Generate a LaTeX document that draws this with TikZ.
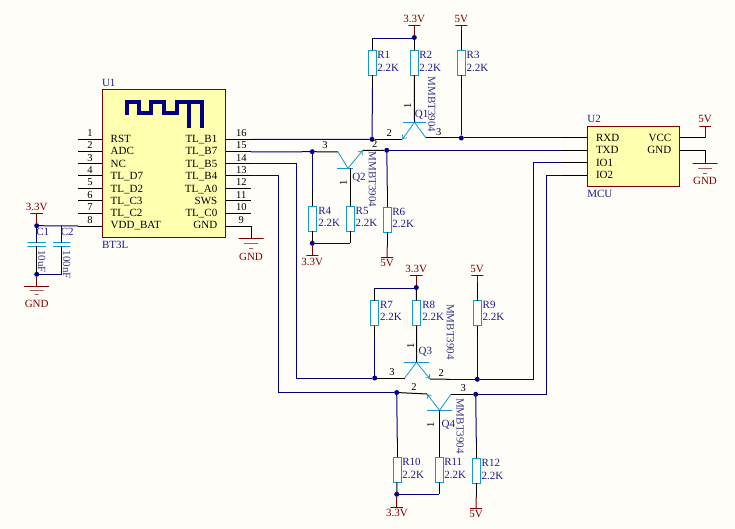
\documentclass[tikz,border=0pt]{standalone}
\usepackage{fontspec}
\setmainfont{Liberation Serif}
\usetikzlibrary{arrows.meta}
\definecolor{paper}{HTML}{FFFDF8}
\definecolor{chipfill}{HTML}{FFFFB0}
\definecolor{netblue}{HTML}{000080}
\definecolor{partcyan}{HTML}{0F9CC8}
\definecolor{powerred}{HTML}{800000}
\definecolor{refblue}{HTML}{1C1C8C}
\definecolor{typeblue}{HTML}{3A3A8C}

\begin{document}
\begin{tikzpicture}[x=1pt,y=-1pt]
	\tikzstyle{txt}=[inner sep=0pt, outer sep=0pt, text height=7pt, text depth=0pt, font=\fontsize{11}{12}\selectfont]
	\tikzstyle{pinname}=[txt, text=black]
	\tikzstyle{pinnum}=[txt, text=black, font=\fontsize{10.5}{12}\selectfont]
	\tikzstyle{ref}=[txt, text=refblue]
	\tikzstyle{typename}=[txt, text=typeblue, rotate=-90]
	\tikzstyle{power}=[txt, text=powerred]
	\tikzstyle{chip}=[rectangle, draw=powerred, fill=chipfill, line width=1pt, inner sep=0pt, outer sep=0pt]
	\tikzstyle{res}=[rectangle, draw=partcyan, fill=paper, line width=1.1pt, minimum width=8.4pt, minimum height=25pt, inner sep=0pt, outer sep=0pt]
	\tikzstyle{bar}=[rectangle, draw=partcyan, line width=0.6pt, inner sep=0pt, outer sep=0pt, minimum height=0pt]
	\tikzstyle{railbar}=[bar, draw=powerred]
	\tikzstyle{dot}=[circle, fill=netblue, inner sep=0pt, outer sep=0pt, minimum size=5pt]
	\tikzstyle{wire}=[netblue, line width=1pt]
	\tikzstyle{pin}=[black, line width=1pt]
	\tikzstyle{rail}=[powerred, line width=1pt]
	\tikzstyle{leg}=[partcyan, line width=0.8pt]
	\tikzstyle{legarrow}=[leg, -{To[length=4pt,width=6pt]}]

	\path[fill=paper] (0,0) rectangle (735,529);

	% BT3L module
	\node[chip, minimum width=123.5pt, minimum height=147pt] (U1) at (163.75,163.5) {};
	\draw[netblue, line width=3.7pt, line join=miter] (126.7,115) -- (126.7,101.7) -- (139.3,101.7) -- (139.3,113.3) -- (150.7,113.3) -- (150.7,101.7) -- (164.3,101.7) -- (164.3,113.3) -- (176.7,113.3) -- (176.7,101.7) -- (201.7,101.7) -- (201.7,128.3);
	\draw[netblue, line width=3.7pt] (189.3,101.7) -- (189.3,128.3);
	\node[ref, anchor=west] (U1ref) at (102,83.3) {U1};
	\node[ref, anchor=west] (U1type) at (102,244.7) {BT3L};

	% module pins, left side
	\coordinate (p1) at (78,139.5);
	\coordinate (p2) at (78,152);
	\coordinate (p3) at (78,164);
	\coordinate (p4) at (78,176);
	\coordinate (p5) at (78,189);
	\coordinate (p6) at (78,201);
	\coordinate (p7) at (78,213.5);
	\coordinate (p8) at (78,226);
	\draw[pin] (p1) -- (p1 -| U1.west);
	\draw[pin] (p2) -- (p2 -| U1.west);
	\draw[pin] (p3) -- (p3 -| U1.west);
	\draw[pin] (p4) -- (p4 -| U1.west);
	\draw[pin] (p5) -- (p5 -| U1.west);
	\draw[pin] (p6) -- (p6 -| U1.west);
	\draw[pin] (p7) -- (p7 -| U1.west);
	\draw[pin] (p8) -- (p8 -| U1.west);
	\node[pinnum] (n1) at (90,132.7) {1};
	\node[pinnum] (n2) at (90,145.3) {2};
	\node[pinnum] (n3) at (90,157.7) {3};
	\node[pinnum] (n4) at (90,170) {4};
	\node[pinnum] (n5) at (90,182.3) {5};
	\node[pinnum] (n6) at (90,195) {6};
	\node[pinnum] (n7) at (90,207.3) {7};
	\node[pinnum] (n8) at (90,220) {8};
	\node[pinname, anchor=west] (rst) at (110.7,139.3) {RST};
	\node[pinname, anchor=west] (adc) at (110.7,151.5) {ADC};
	\node[pinname, anchor=west] (nc) at (110.7,164) {NC};
	\node[pinname, anchor=west] (d7) at (110.7,176) {TL\_D7};
	\node[pinname, anchor=west] (d2) at (110.7,189) {TL\_D2};
	\node[pinname, anchor=west] (c3) at (110.7,201) {TL\_C3};
	\node[pinname, anchor=west] (c2) at (110.7,213.5) {TL\_C2};
	\node[pinname, anchor=west] (vdd) at (110.7,225.5) {VDD\_BAT};

	% module pins, right side
	\coordinate (p16) at (251,139.5);
	\coordinate (p15) at (251,152);
	\coordinate (p14) at (251,164);
	\coordinate (p13) at (251,176);
	\coordinate (p12) at (251,189);
	\coordinate (p11) at (251,201);
	\coordinate (p10) at (251,213.5);
	\coordinate (p9) at (251,226);
	\draw[pin] (p16) -- (p16 -| U1.east);
	\draw[pin] (p15) -- (p15 -| U1.east);
	\draw[pin] (p14) -- (p14 -| U1.east);
	\draw[pin] (p13) -- (p13 -| U1.east);
	\draw[pin] (p12) -- (p12 -| U1.east);
	\draw[pin] (p11) -- (p11 -| U1.east);
	\draw[pin] (p10) -- (p10 -| U1.east);
	\draw[pin] (p9) -- (p9 -| U1.east);
	\node[pinnum] (n16) at (241.3,132.7) {16};
	\node[pinnum] (n15) at (241.3,145.3) {15};
	\node[pinnum] (n14) at (241.3,157.7) {14};
	\node[pinnum] (n13) at (241.3,170) {13};
	\node[pinnum] (n12) at (241.3,182.3) {12};
	\node[pinnum] (n11) at (241.3,195) {11};
	\node[pinnum] (n10) at (241.3,207.3) {10};
	\node[pinnum] (n9) at (241.3,220) {9};
	\node[pinname, anchor=east] (b1) at (217.3,139.3) {TL\_B1};
	\node[pinname, anchor=east] (b7) at (217.3,151.5) {TL\_B7};
	\node[pinname, anchor=east] (b5) at (217.3,164) {TL\_B5};
	\node[pinname, anchor=east] (b4) at (217.3,176) {TL\_B4};
	\node[pinname, anchor=east] (a0) at (217.3,189) {TL\_A0};
	\node[pinname, anchor=east] (sws) at (217.3,201) {SWS};
	\node[pinname, anchor=east] (c0) at (217.3,213.5) {TL\_C0};
	\node[pinname, anchor=east] (gnd1) at (217.3,225.5) {GND};

	% module ground
	\node[railbar, minimum width=25pt] (g1a) at (251,238.3) {};
	\node[railbar, minimum width=14pt] (g1b) at (251,243) {};
	\node[railbar, minimum width=4pt] (g1c) at (251,248) {};
	\draw[pin] (p9) -- (g1a);
	\node[power] (g1txt) at (251,256.7) {GND};

	% decoupling
	\node[dot] (j3v) at (36.7,225.7) {};
	\node[dot] (jgnd) at (36.7,274.3) {};
	\coordinate (c2top) at (61.7,225.7);
	\coordinate (c2bot) at (61.7,274.3);
	\node[railbar, minimum width=12.7pt] (vc) at (36.7,213.3) {};
	\node[power] (vctxt) at (36.7,207.3) {3.3V};
	\node[bar, minimum width=18.5pt, line width=0.9pt] (C1a) at (36.7,242.7) {};
	\node[bar, minimum width=18.5pt, line width=0.9pt] (C1b) at (36.7,246.3) {};
	\node[bar, minimum width=17.4pt, line width=0.9pt] (C2a) at (61.7,242.7) {};
	\node[bar, minimum width=17.4pt, line width=0.9pt] (C2b) at (61.7,246.3) {};
	\node[railbar, minimum width=25pt] (g2a) at (36.7,286.3) {};
	\node[railbar, minimum width=14pt] (g2b) at (36.7,290) {};
	\node[railbar, minimum width=4pt] (g2c) at (36.7,294) {};
	\node[power] (g2txt) at (36.7,304.3) {GND};
	\draw[wire] (p8) -- (j3v);
	\draw[rail] (vc) -- (j3v);
	\draw[wire] (j3v) -- (C1a);
	\draw[wire] (c2top) -- (C2a);
	\draw[pin] (C1b) -- (jgnd);
	\draw[pin] (C2b) -- (c2bot);
	\draw[wire] (jgnd) -- (c2bot);
	\draw[rail] (jgnd) -- (g2a);
	\node[ref] (C1ref) at (42.7,232) {C1};
	\node[ref] (C2ref) at (67.3,232) {C2};
	\node[typename] (C1val) at (41.7,261.7) {10uF};
	\node[typename] (C2val) at (66.7,265) {100nF};

	% first level shifter
	\node[res] (R1) at (372.5,63) {};
	\node[res] (R2) at (414.3,63) {};
	\node[res] (R3) at (461.3,63) {};
	\node[ref, anchor=west] (R1ref) at (377.3,55) {R1};
	\node[ref, anchor=west] (R2ref) at (419.3,55) {R2};
	\node[ref, anchor=west] (R3ref) at (466.7,55) {R3};
	\node[ref, anchor=west] (R1val) at (377.3,67.7) {2.2K};
	\node[ref, anchor=west] (R2val) at (419.3,67.7) {2.2K};
	\node[ref, anchor=west] (R3val) at (466.7,67.7) {2.2K};
	\node[railbar, minimum width=12pt] (v1) at (414.3,25.3) {};
	\node[railbar, minimum width=12pt] (v2) at (461.3,25.3) {};
	\node[power] (v1txt) at (414.3,18.7) {3.3V};
	\node[power] (v2txt) at (461.3,18.7) {5V};
	\node[dot] (j1) at (414.3,37.5) {};
	\coordinate (j1l) at (372.5,38.2);
	\draw[rail] (v1) -- (j1);
	\draw[wire] (j1) -- (j1 |- j1l) -- (j1l);
	\draw[pin] (j1l) -- (R1);
	\draw[pin] (j1) -- (R2);
	\draw[rail] (v2) -- (461.3,30);
	\draw[pin] (461.3,30) -- (R3);
	\node[bar, minimum width=23pt] (Q1) at (414.5,122.3) {};
	\coordinate (Q1e) at (402.3,139.3);
	\coordinate (Q1c) at (426,138);
	\draw[pin] (R2) -- (Q1);
	\draw[legarrow] (Q1.center) -- (Q1e);
	\draw[leg] (Q1.center) -- (Q1c);
	\node[dot] (j2) at (372,139.3) {};
	\node[dot] (j4) at (461.3,138) {};
	\coordinate (R1s) at (372.5,87);
	\coordinate (R3s) at (461.3,87);
	\draw[pin] (R1) -- (R1s);
	\draw[wire] (R1s) -- (j2);
	\draw[pin] (R3) -- (R3s);
	\draw[wire] (R3s) -- (j4);
	\draw[wire] (p16) -- (j2);
	\draw[pin] (j2) -- (Q1e);
	\draw[pin] (Q1c) -- (448,138);
	\draw[wire] (448,138) -- (j4);
	\node[ref] (Q1ref) at (421.7,114) {Q1};
	\node[pinnum, rotate=90] (Q1n1) at (407.7,106) {1};
	\node[pinnum] (Q1n2) at (389.3,133) {2};
	\node[pinnum] (Q1n3) at (438.7,132) {3};
	\node[typename] (Q1type) at (431.7,104.5) {MMBT3904};

	% second level shifter
	\node[res] (R4) at (312.3,218.8) {};
	\node[res] (R5) at (350.3,218.8) {};
	\node[res] (R6) at (387.3,219.8) {};
	\node[ref, anchor=west] (R4ref) at (318.3,211) {R4};
	\node[ref, anchor=west] (R5ref) at (355.7,211) {R5};
	\node[ref, anchor=west] (R6ref) at (392.3,212.3) {R6};
	\node[ref, anchor=west] (R4val) at (318.3,223.3) {2.2K};
	\node[ref, anchor=west] (R5val) at (355.7,223.3) {2.2K};
	\node[ref, anchor=west] (R6val) at (392.3,224.3) {2.2K};
	\node[bar, minimum width=16pt] (Q2) at (345,168.3) {};
	\coordinate (Q2m) at (348,168.3);
	\coordinate (Q2e) at (338,152);
	\coordinate (Q2c) at (362.7,150.5);
	\node[dot] (j5) at (312.3,151.7) {};
	\node[dot] (j6) at (386.8,150.3) {};
	\node[dot] (j7) at (312.3,243.3) {};
	\coordinate (j7r) at (350.3,243.3);
	\coordinate (R4s) at (312.3,190);
	\coordinate (R6s) at (387.3,190);
	\draw[wire] (p15) -- (j5);
	\draw[pin] (j5) -- (Q2e);
	\draw[leg] (Q2e) -- (Q2m);
	\draw[legarrow] (Q2m) -- (Q2c);
	\draw[pin] (Q2c) -- (j6);
	\draw[wire] (j5) -- (R4s);
	\draw[pin] (R4s) -- (R4);
	\draw[wire] (j6) -- (R6s);
	\draw[pin] (R6s) -- (R6);
	\draw[pin] (R5) -- (R5 |- Q2);
	\draw[pin] (R4) -- (j7);
	\draw[pin] (R5) -- (j7r);
	\draw[wire] (j7) -- (j7r);
	\node[railbar, minimum width=12pt] (v3) at (312.3,255.5) {};
	\node[railbar, minimum width=12pt] (v4) at (387,257.3) {};
	\draw[rail] (j7) -- (v3);
	\draw[pin] (R6) -- (387.3,245);
	\draw[rail] (387.3,245) -- (v4);
	\node[power] (v3txt) at (312.3,261.7) {3.3V};
	\node[power] (v4txt) at (387,263) {5V};
	\node[ref] (Q2ref) at (359,176.7) {Q2};
	\node[pinnum, rotate=90] (Q2n1) at (343.3,182.7) {1};
	\node[pinnum] (Q2n2) at (374.7,144) {2};
	\node[pinnum] (Q2n3) at (325,145) {3};
	\node[typename] (Q2type) at (372.3,179.5) {MMBT3904};

	% third level shifter
	\node[res] (R7) at (374.7,313) {};
	\node[res] (R8) at (416.6,313) {};
	\node[res] (R9) at (477.3,313) {};
	\node[ref, anchor=west] (R7ref) at (380,305) {R7};
	\node[ref, anchor=west] (R8ref) at (422.3,305) {R8};
	\node[ref, anchor=west] (R9ref) at (482.7,305) {R9};
	\node[ref, anchor=west] (R7val) at (380,317.3) {2.2K};
	\node[ref, anchor=west] (R8val) at (422.3,317.3) {2.2K};
	\node[ref, anchor=west] (R9val) at (482.7,317.3) {2.2K};
	\node[railbar, minimum width=12.5pt] (v5) at (416.3,275.3) {};
	\node[railbar, minimum width=12pt] (v6) at (477.3,275.3) {};
	\node[power] (v5txt) at (416.3,269.3) {3.3V};
	\node[power] (v6txt) at (477,269.3) {5V};
	\node[dot] (j8) at (416.3,287.5) {};
	\coordinate (j8l) at (374.7,288.2);
	\draw[rail] (v5) -- (j8);
	\draw[wire] (j8) -- (j8 |- j8l) -- (j8l);
	\draw[pin] (j8l) -- (R7);
	\draw[pin] (j8) -- (R8);
	\draw[rail] (v6) -- (477.3,283);
	\draw[pin] (477.3,283) -- (R9);
	\node[bar, minimum width=25pt] (Q3) at (416.5,362.3) {};
	\coordinate (Q3e) at (404.7,378);
	\coordinate (Q3c) at (430,379);
	\draw[pin] (R8) -- (Q3);
	\draw[leg] (Q3e) -- (Q3.center);
	\draw[legarrow] (Q3.center) -- (Q3c);
	\node[dot] (j9) at (374.7,378) {};
	\node[dot] (j10) at (477.3,379.3) {};
	\coordinate (R7s) at (374.7,337);
	\coordinate (R9s) at (477.3,337);
	\draw[pin] (R7) -- (R7s);
	\draw[wire] (R7s) -- (j9);
	\draw[pin] (R9) -- (R9s);
	\draw[wire] (R9s) -- (j10);
	\draw[wire] (p14) -| (296.3,378) -- (j9);
	\draw[pin] (j9) -- (Q3e);
	\draw[pin] (Q3c) -- (450,379.3);
	\draw[wire] (450,379.3) -- (j10);
	\node[ref] (Q3ref) at (425.3,351) {Q3};
	\node[pinnum, rotate=90] (Q3n1) at (410.7,346) {1};
	\node[pinnum] (Q3n3) at (392,372) {3};
	\node[pinnum] (Q3n2) at (441.3,373) {2};
	\node[typename] (Q3type) at (450.3,332) {MMBT3904};

	% fourth level shifter
	\node[res] (R10) at (397.3,469.8) {};
	\node[res] (R11) at (439.3,469.8) {};
	\node[res] (R12) at (476.3,470.8) {};
	\node[ref, anchor=west] (R10ref) at (402.3,462) {R10};
	\node[ref, anchor=west] (R11ref) at (444.3,462) {R11};
	\node[ref, anchor=west] (R12ref) at (481.7,463.3) {R12};
	\node[ref, anchor=west] (R10val) at (402.3,474.7) {2.2K};
	\node[ref, anchor=west] (R11val) at (444.3,474.7) {2.2K};
	\node[ref, anchor=west] (R12val) at (481.7,476) {2.2K};
	\node[bar, minimum width=25pt] (Q4) at (439.5,410.3) {};
	\coordinate (Q4e) at (427,394);
	\coordinate (Q4c) at (451,394.3);
	\node[dot] (j11) at (396.7,392.5) {};
	\node[dot] (j12) at (475.7,394.3) {};
	\node[dot] (j13) at (396.7,494.3) {};
	\coordinate (j13r) at (439.3,494.3);
	\coordinate (R10s) at (397.3,442);
	\coordinate (R12s) at (476.3,442);
	\draw[wire] (p13) -| (278,392.5) -- (j11);
	\draw[pin] (j11) -- (Q4e);
	\draw[legarrow] (Q4.center) -- (Q4e);
	\draw[leg] (Q4.center) -- (Q4c);
	\draw[pin] (Q4c) -- (j12);
	\draw[wire] (j11) -- (R10s);
	\draw[pin] (R10s) -- (R10);
	\draw[wire] (j12) -- (R12s);
	\draw[pin] (R12s) -- (R12);
	\draw[pin] (R11) -- (R11 |- Q4);
	\draw[pin] (R10) -- (j13);
	\draw[pin] (R11) -- (j13r);
	\draw[wire] (j13) -- (j13r);
	\node[railbar, minimum width=12.5pt] (v7) at (396.5,507.3) {};
	\node[railbar, minimum width=12pt] (v8) at (476,508.3) {};
	\draw[rail] (j13) -- (v7);
	\draw[pin] (R12) -- (476.3,495);
	\draw[rail] (476.3,495) -- (v8);
	\node[power] (v7txt) at (397,513) {3.3V};
	\node[power] (v8txt) at (476,514) {5V};
	\node[ref] (Q4ref) at (448.3,424.3) {Q4};
	\node[pinnum, rotate=90] (Q4n1) at (430.7,425.3) {1};
	\node[pinnum] (Q4n2) at (414,386.7) {2};
	\node[pinnum] (Q4n3) at (463.3,387.7) {3};
	\node[typename] (Q4type) at (460,426) {MMBT3904};

	% MCU
	\node[chip, minimum width=92.4pt, minimum height=59.6pt] (U2) at (633.5,156.5) {};
	\node[ref, anchor=west] (U2ref) at (587.3,119) {U2};
	\node[ref, anchor=west] (U2type) at (587.3,193.7) {MCU};
	\coordinate (rx) at (562,138);
	\coordinate (tx) at (562,150.3);
	\coordinate (io1) at (562,163);
	\coordinate (io2) at (562,175.5);
	\draw[pin] (rx) -- (rx -| U2.west);
	\draw[pin] (tx) -- (tx -| U2.west);
	\draw[pin] (io1) -- (io1 -| U2.west);
	\draw[pin] (io2) -- (io2 -| U2.west);
	\draw[wire] (j4) -- (rx);
	\draw[wire] (j6) -- (tx);
	\draw[wire] (j10) -| (533.3,163) -- (io1);
	\draw[wire] (j12) -| (546.7,175.5) -- (io2);
	\node[pinname, anchor=west] (rxd) at (596,138) {RXD};
	\node[pinname, anchor=west] (txd) at (596,150.3) {TXD};
	\node[pinname, anchor=west] (io1txt) at (596,163) {IO1};
	\node[pinname, anchor=west] (io2txt) at (596,175.5) {IO2};
	\node[pinname, anchor=east] (vcc) at (671.3,138) {VCC};
	\node[pinname, anchor=east] (gnd2) at (671.3,150.3) {GND};
	\node[railbar, minimum width=11.5pt] (v9) at (705,126.3) {};
	\node[power] (v9txt) at (705,119.3) {5V};
	\node[railbar, minimum width=25pt] (g3a) at (705,163.3) {};
	\node[railbar, minimum width=14pt] (g3b) at (705,168) {};
	\node[railbar, minimum width=4pt] (g3c) at (705,173) {};
	\node[power] (g3txt) at (705,181.3) {GND};
	\coordinate (vccs) at (705,138);
	\coordinate (gnds) at (705,150.3);
	\draw[pin] (vccs) -- (vccs -| U2.east);
	\draw[pin] (gnds) -- (gnds -| U2.east);
	\draw[rail] (vccs) -- (v9);
	\draw[pin] (gnds) -- (g3a);

	\useasboundingbox (0,0) rectangle (735,529);
\end{tikzpicture}
\end{document}
